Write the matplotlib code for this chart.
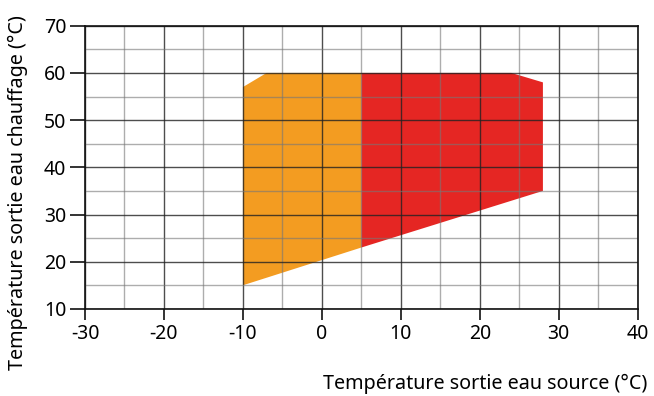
import matplotlib
matplotlib.use("Agg")
import matplotlib.pyplot as plt
from matplotlib.ticker import MultipleLocator

plt.rcParams['font.family'] = ['Noto Sans', 'DejaVu Sans']

# Operating envelope outlines (source outlet temp, heating outlet temp)
orange_x = [-10, -10, -7, 5, 5]
orange_y = [15, 57, 60, 60, 23]
red_x = [5, 5, 24, 28, 28]
red_y = [23, 60, 60, 58, 35]

x_ticks = [-30, -20, -10, 0, 10, 20, 30, 40]
y_ticks = [10, 20, 30, 40, 50, 60, 70]

fig = plt.figure(figsize=(6.54, 3.96), dpi=100)
ax = fig.add_axes([0.130, 0.220, 0.845, 0.715])

ax.fill(orange_x, orange_y, color='#F39C21', lw=0, zorder=1)
ax.fill(red_x, red_y, color='#E52623', lw=0, zorder=1)

ax.set_xlim(-30, 40)
ax.set_ylim(10, 70)
ax.set_xticks(x_ticks)
ax.set_yticks(y_ticks)
ax.xaxis.set_minor_locator(MultipleLocator(5))
ax.yaxis.set_minor_locator(MultipleLocator(5))

ax.set_axisbelow(False)
ax.grid(which='major', color='#222222', lw=1.0, alpha=0.8, zorder=3)
ax.grid(which='minor', color='#777777', lw=1.0, alpha=0.6, zorder=3)

ax.tick_params(which='major', direction='out', width=1.2,
               color='#111111', labelsize=14, pad=3)
ax.tick_params(axis='y', which='major', length=10.5)
ax.tick_params(axis='x', which='major', length=8)
ax.tick_params(which='minor', length=0)
for s in ax.spines.values():
    s.set_color('#111111')
    s.set_linewidth(1.2)
    s.set_zorder(4)

ax.set_xticklabels([str(v) for v in x_ticks])
ax.set_yticklabels([str(v) for v in y_ticks])

fig.text(647 / 654, 1 - 384 / 396, 'Température sortie eau source (°C)',
         ha='right', va='center', fontsize=14.2)
fig.text(18 / 654, 1 - 193 / 396, 'Température sortie eau chauffage (°C)',
         ha='center', va='center', rotation=90, fontsize=14.2)

fig.savefig('out.png', dpi=100)
